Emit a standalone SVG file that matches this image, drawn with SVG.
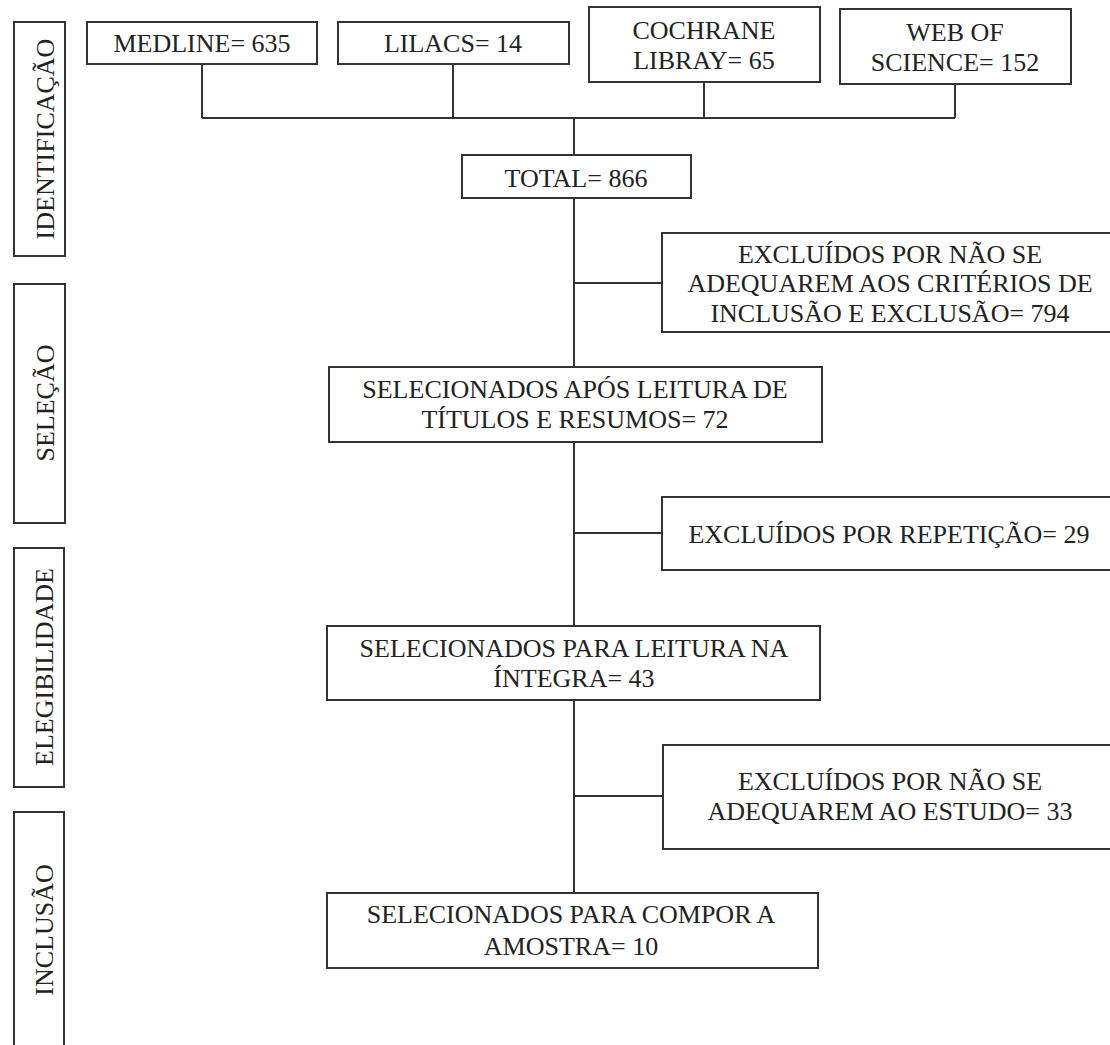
<svg xmlns="http://www.w3.org/2000/svg" width="1110" height="1045" viewBox="0 0 1110 1045">
<style>
.box{fill:#fff;stroke:#333;stroke-width:2}
.ln{fill:none;stroke:#333;stroke-width:2}
text{font-family:"Liberation Serif","Times New Roman",serif;font-size:26px;fill:#222;text-anchor:middle}
</style>
<rect width="1110" height="1045" fill="#fff"/>
<g id="phase-identificacao"><rect class="box" x="14" y="22" width="51" height="234"/><text transform="translate(54,139) rotate(-90)">IDENTIFICAÇÃO</text></g>
<g id="phase-selecao"><rect class="box" x="14" y="284" width="51" height="239"/><text transform="translate(54,403) rotate(-90)">SELEÇÃO</text></g>
<g id="phase-elegibilidade"><rect class="box" x="14" y="548" width="50" height="239"/><text transform="translate(53,667) rotate(-90)">ELEGIBILIDADE</text></g>
<g id="phase-inclusao"><rect class="box" x="14" y="812" width="50" height="240"/><text transform="translate(53,930) rotate(-90)">INCLUSÃO</text></g>
<g id="connectors">
<path class="ln" d="M202 64V118M453 64V118M704 82V118M955 84V118M202 118H955"/>
<path class="ln" d="M574 118V155M574 198V367M574 442V626M574 700V893"/>
<path class="ln" d="M574 283H662M574 533H662M574 796H663"/>
</g>
<g id="medline"><rect class="box" x="87" y="22" width="230" height="42"/><text x="202" y="52">MEDLINE= 635</text></g>
<g id="lilacs"><rect class="box" x="338" y="22" width="231" height="42"/><text x="453" y="52">LILACS= 14</text></g>
<g id="cochrane"><rect class="box" x="589" y="7" width="231" height="75"/><text x="704" y="39">COCHRANE</text><text x="704" y="69">LIBRAY= 65</text></g>
<g id="webofscience"><rect class="box" x="840" y="9" width="231" height="75"/><text x="955" y="41">WEB OF</text><text x="955" y="71">SCIENCE= 152</text></g>
<g id="total"><rect class="box" x="462" y="155" width="229" height="43"/><text x="576" y="187">TOTAL= 866</text></g>
<g id="excl1"><rect class="box" x="662" y="233" width="460" height="99"/><text x="890" y="263">EXCLUÍDOS POR NÃO SE</text><text x="890" y="292">ADEQUAREM AOS CRITÉRIOS DE</text><text x="890" y="322">INCLUSÃO E EXCLUSÃO= 794</text></g>
<g id="sel1"><rect class="box" x="329" y="367" width="493" height="75"/><text x="575" y="398">SELECIONADOS APÓS LEITURA DE</text><text x="575" y="428">TÍTULOS E RESUMOS= 72</text></g>
<g id="excl2"><rect class="box" x="662" y="497" width="460" height="73"/><text x="889" y="543">EXCLUÍDOS POR REPETIÇÃO= 29</text></g>
<g id="sel2"><rect class="box" x="327" y="626" width="493" height="74"/><text x="574" y="657">SELECIONADOS PARA LEITURA NA</text><text x="574" y="687">ÍNTEGRA= 43</text></g>
<g id="excl3"><rect class="box" x="663" y="745" width="460" height="104"/><text x="890" y="790">EXCLUÍDOS POR NÃO SE</text><text x="890" y="820">ADEQUAREM AO ESTUDO= 33</text></g>
<g id="final"><rect class="box" x="327" y="893" width="491" height="75"/><text x="571" y="923">SELECIONADOS PARA COMPOR A</text><text x="571" y="955">AMOSTRA= 10</text></g>
</svg>
